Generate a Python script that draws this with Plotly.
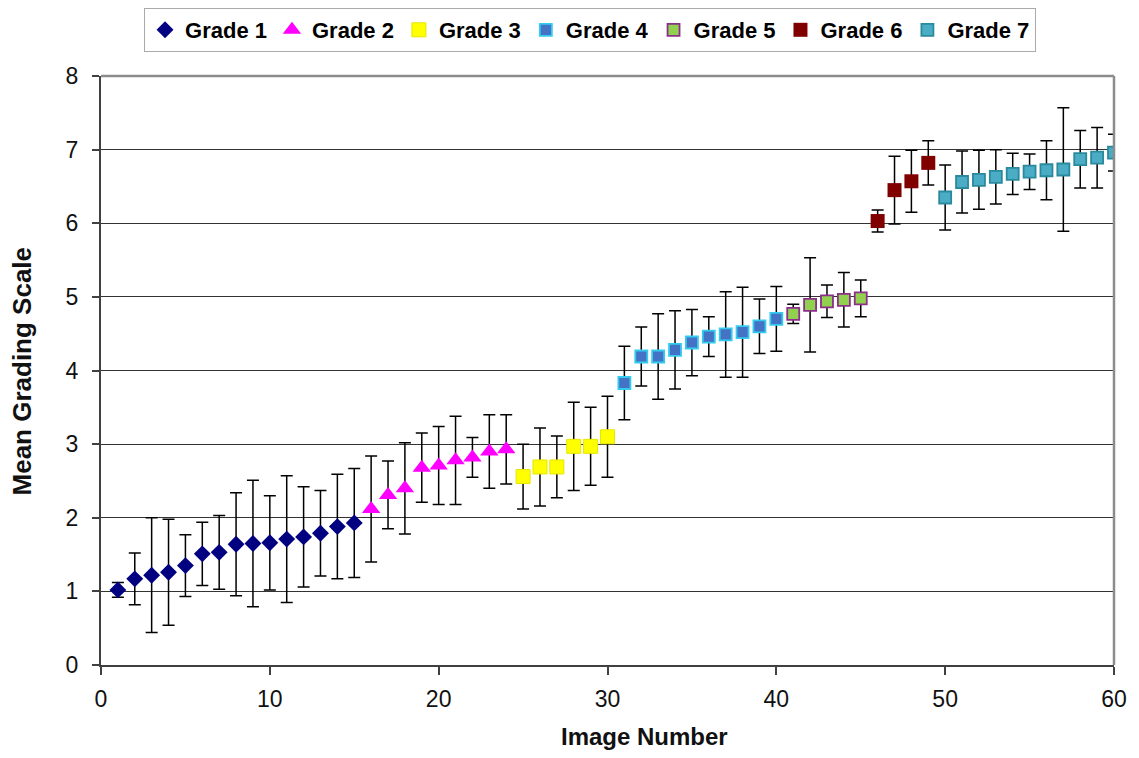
import plotly.graph_objects as go

# ---- Data ----
grade_names = ["Grade 1", "Grade 2", "Grade 3", "Grade 4", "Grade 5", "Grade 6", "Grade 7"]

g1_x = list(range(1, 16))
g1_mean = [1.02, 1.17, 1.22, 1.26, 1.35, 1.51, 1.53, 1.64, 1.65, 1.66, 1.71, 1.74, 1.79, 1.88, 1.93]
g1_sd = [0.10, 0.35, 0.78, 0.72, 0.42, 0.43, 0.50, 0.70, 0.86, 0.64, 0.86, 0.68, 0.58, 0.71, 0.74]

g2_x = list(range(16, 25))
g2_mean = [2.12, 2.31, 2.40, 2.68, 2.71, 2.78, 2.82, 2.90, 2.93]
g2_sd = [0.72, 0.46, 0.62, 0.47, 0.53, 0.60, 0.27, 0.50, 0.47]

g3_x = list(range(25, 31))
g3_mean = [2.56, 2.69, 2.69, 2.97, 2.97, 3.10]
g3_sd = [0.44, 0.53, 0.42, 0.60, 0.53, 0.55]

g4_x = list(range(31, 41))
g4_mean = [3.83, 4.19, 4.19, 4.28, 4.38, 4.46, 4.49, 4.52, 4.60, 4.70]
g4_sd = [0.50, 0.40, 0.58, 0.53, 0.45, 0.27, 0.58, 0.61, 0.37, 0.44]

g5_x = list(range(41, 46))
g5_mean = [4.77, 4.89, 4.94, 4.96, 4.98]
g5_sd = [0.13, 0.64, 0.22, 0.37, 0.25]

g6_x = list(range(46, 50))
g6_mean = [6.03, 6.45, 6.57, 6.82]
g6_sd = [0.15, 0.46, 0.42, 0.30]

g7_x = list(range(50, 61))
g7_mean = [6.35, 6.56, 6.59, 6.63, 6.67, 6.70, 6.72, 6.73, 6.87, 6.89, 6.96]
g7_sd = [0.44, 0.42, 0.40, 0.37, 0.28, 0.24, 0.40, 0.84, 0.39, 0.41, 0.25]

x_ticks = [0, 10, 20, 30, 40, 50, 60]
y_ticks = [0, 1, 2, 3, 4, 5, 6, 7, 8]

# ---- Styling ----
series = [
    (g1_x, g1_mean, g1_sd, dict(symbol="diamond", size=13, color="#000080", line=dict(width=0))),
    (g2_x, g2_mean, g2_sd, dict(symbol="triangle-up", size=16, color="#FF00FF", line=dict(width=0))),
    (g3_x, g3_mean, g3_sd, dict(symbol="square", size=14, color="#FFFF00", line=dict(width=1, color="#E6E600"))),
    (g4_x, g4_mean, g4_sd, dict(symbol="square", size=12, color="#4472C4", line=dict(width=1.8, color="#33CCEE"))),
    (g5_x, g5_mean, g5_sd, dict(symbol="square", size=12, color="#92D050", line=dict(width=1.8, color="#8B2F8B"))),
    (g6_x, g6_mean, g6_sd, dict(symbol="square", size=14, color="#800000", line=dict(width=0))),
    (g7_x, g7_mean, g7_sd, dict(symbol="square", size=12, color="#4BACC6", line=dict(width=1.8, color="#2A8A9C"))),
]

font_family = "Liberation Sans, Arial, sans-serif"

fig = go.Figure()
for name, (xs, ys, sds, marker) in zip(grade_names, series):
    fig.add_trace(go.Scatter(
        x=xs, y=ys, mode="markers", name=name, marker=marker,
        error_y=dict(type="data", array=sds, visible=True, color="#000000",
                     thickness=1.5, width=6),
    ))

fig.update_layout(
    width=1139, height=758,
    margin=dict(l=93, r=33, t=68, b=101),
    paper_bgcolor="white", plot_bgcolor="white",
    font=dict(family=font_family, size=22, color="#111111"),
    showlegend=True,
    legend=dict(
        orientation="h", xref="container", yref="container",
        x=0.511, xanchor="center", y=1.0, yanchor="top",
        bordercolor="#AAAAAA", borderwidth=1,
        font=dict(family=font_family, size=22, color="#000000", weight="bold"),
        itemwidth=30, tracegroupgap=0,
    ),
    xaxis=dict(
        range=[0, 60], tickvals=x_ticks, ticks="outside", ticklen=8, tickwidth=1.5,
        tickcolor="#404040", showline=True, linecolor="#404040", linewidth=2,
        showgrid=False, zeroline=False, tickfont=dict(size=23, color="#111111"),
        ticklabelstandoff=4,
    ),
    yaxis=dict(
        range=[0, 8], tickvals=y_ticks, ticks="outside", ticklen=7, tickwidth=1.5,
        tickcolor="#404040", showline=True, linecolor="#404040", linewidth=2,
        showgrid=True, gridcolor="#333333", gridwidth=1.3, zeroline=False,
        tickfont=dict(size=23, color="#111111"), ticklabelstandoff=9,
    ),
    shapes=[
        dict(type="line", xref="paper", yref="paper", x0=0, x1=1, y0=1, y1=1,
             line=dict(color="#8C8C8C", width=2.5), layer="above"),
        dict(type="line", xref="paper", yref="paper", x0=1, x1=1, y0=0, y1=1,
             line=dict(color="#8C8C8C", width=2.5), layer="above"),
    ],
    annotations=[
        dict(text="<b>Image Number</b>", xref="paper", yref="paper",
             x=0.537, y=-0.122, xanchor="center", yanchor="middle", showarrow=False,
             font=dict(size=24, color="#111111", family=font_family)),
        dict(text="<b>Mean Grading Scale</b>", xref="paper", yref="paper",
             x=-0.078, y=0.5, xanchor="center", yanchor="middle", showarrow=False,
             textangle=-90, font=dict(size=26, color="#111111", family=font_family)),
    ],
)

fig.write_html("out.html")
